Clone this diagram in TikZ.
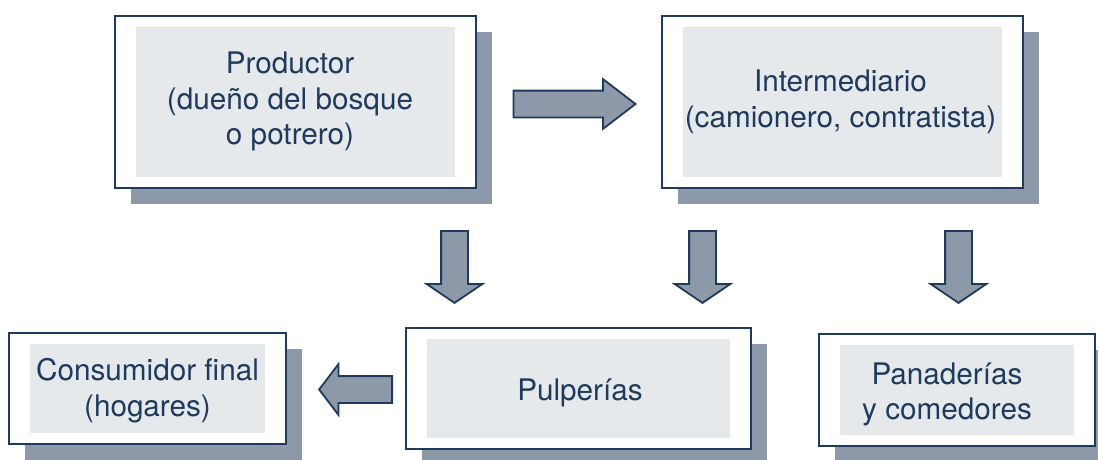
\documentclass[tikz,border=0pt]{standalone}
\usepackage{fontspec}
\setmainfont{TeX Gyre Heros}
\usetikzlibrary{shapes.arrows,shadows}
\definecolor{navy}{HTML}{1F3A5C}
\definecolor{slate}{HTML}{8D99A8}
\definecolor{panel}{HTML}{E6E9EC}
\begin{document}
\begin{tikzpicture}[x=1pt,y=-1pt,
  box/.style={draw=navy, line width=2pt, fill=white, inner sep=0pt,
    general shadow={fill=slate, shadow xshift=16pt, shadow yshift=-16pt},
    path picture={\fill[panel]
      ([xshift=21pt,yshift=-11pt]path picture bounding box.north west) rectangle
      ([xshift=-21pt,yshift=11pt]path picture bounding box.south east);}},
  caption/.style={text=navy, align=center, inner sep=0pt,
    font=\fontsize{29.7}{35.5}\selectfont},
  flow/.style={single arrow, draw=navy, fill=slate, line width=1.8pt,
    inner xsep=0pt, inner ysep=12.5pt, minimum width=0pt, anchor=tip},
]
\path[use as bounding box, clip] (0,0) rectangle (1098,459);

% boxes
\node[box, minimum width=361pt, minimum height=172pt] (prod) at (295.5,102) {};
\node[caption] (prodT) at ([xshift=-5.5pt,yshift=0.5pt]prod.center)
  {Productor\\(dueño del bosque\\o potrero)};

\node[box, minimum width=361pt, minimum height=172pt] (inter) at (842.5,102) {};
\node[caption] (interT) at ([xshift=-2pt]inter.center)
  {Intermediario\\(camionero, contratista)};

\node[box, minimum width=277pt, minimum height=111pt] (cons) at (147.5,388.5) {};
\node[caption] (consT) at ([yshift=-2pt]cons.center)
  {Consumidor final\\(hogares)};

\node[box, minimum width=345pt, minimum height=121pt] (pulp) at (578.5,388.5) {};
\node[caption] (pulpT) at ([xshift=1.5pt,yshift=-4pt]pulp.center) {Pulperías};

\node[box, minimum width=276pt, minimum height=112pt] (pan) at (957,390) {};
\node[caption] (panT) at ([xshift=-10pt,yshift=-4.5pt]pan.center)
  {Panaderías\\y comedores};

% flow arrows
\node[flow, minimum height=122pt, single arrow head extend=11.5pt,
  single arrow tip angle=74.9] (toInter) at (637,104) {};
\node[flow, rotate=-90, minimum height=72pt, single arrow head extend=14.5pt,
  single arrow tip angle=111.7] (down1) at (454.5,304) {};
\node[flow, rotate=-90, minimum height=72pt, single arrow head extend=14.5pt,
  single arrow tip angle=111.7] (down2) at (702.5,304) {};
\node[flow, rotate=-90, minimum height=72pt, single arrow head extend=14.5pt,
  single arrow tip angle=111.7] (down3) at (958.5,304) {};
\node[flow, rotate=180, minimum height=73pt, single arrow head extend=12pt,
  single arrow tip angle=105.5] (toCons) at (318,389.5) {};
\end{tikzpicture}
\end{document}
